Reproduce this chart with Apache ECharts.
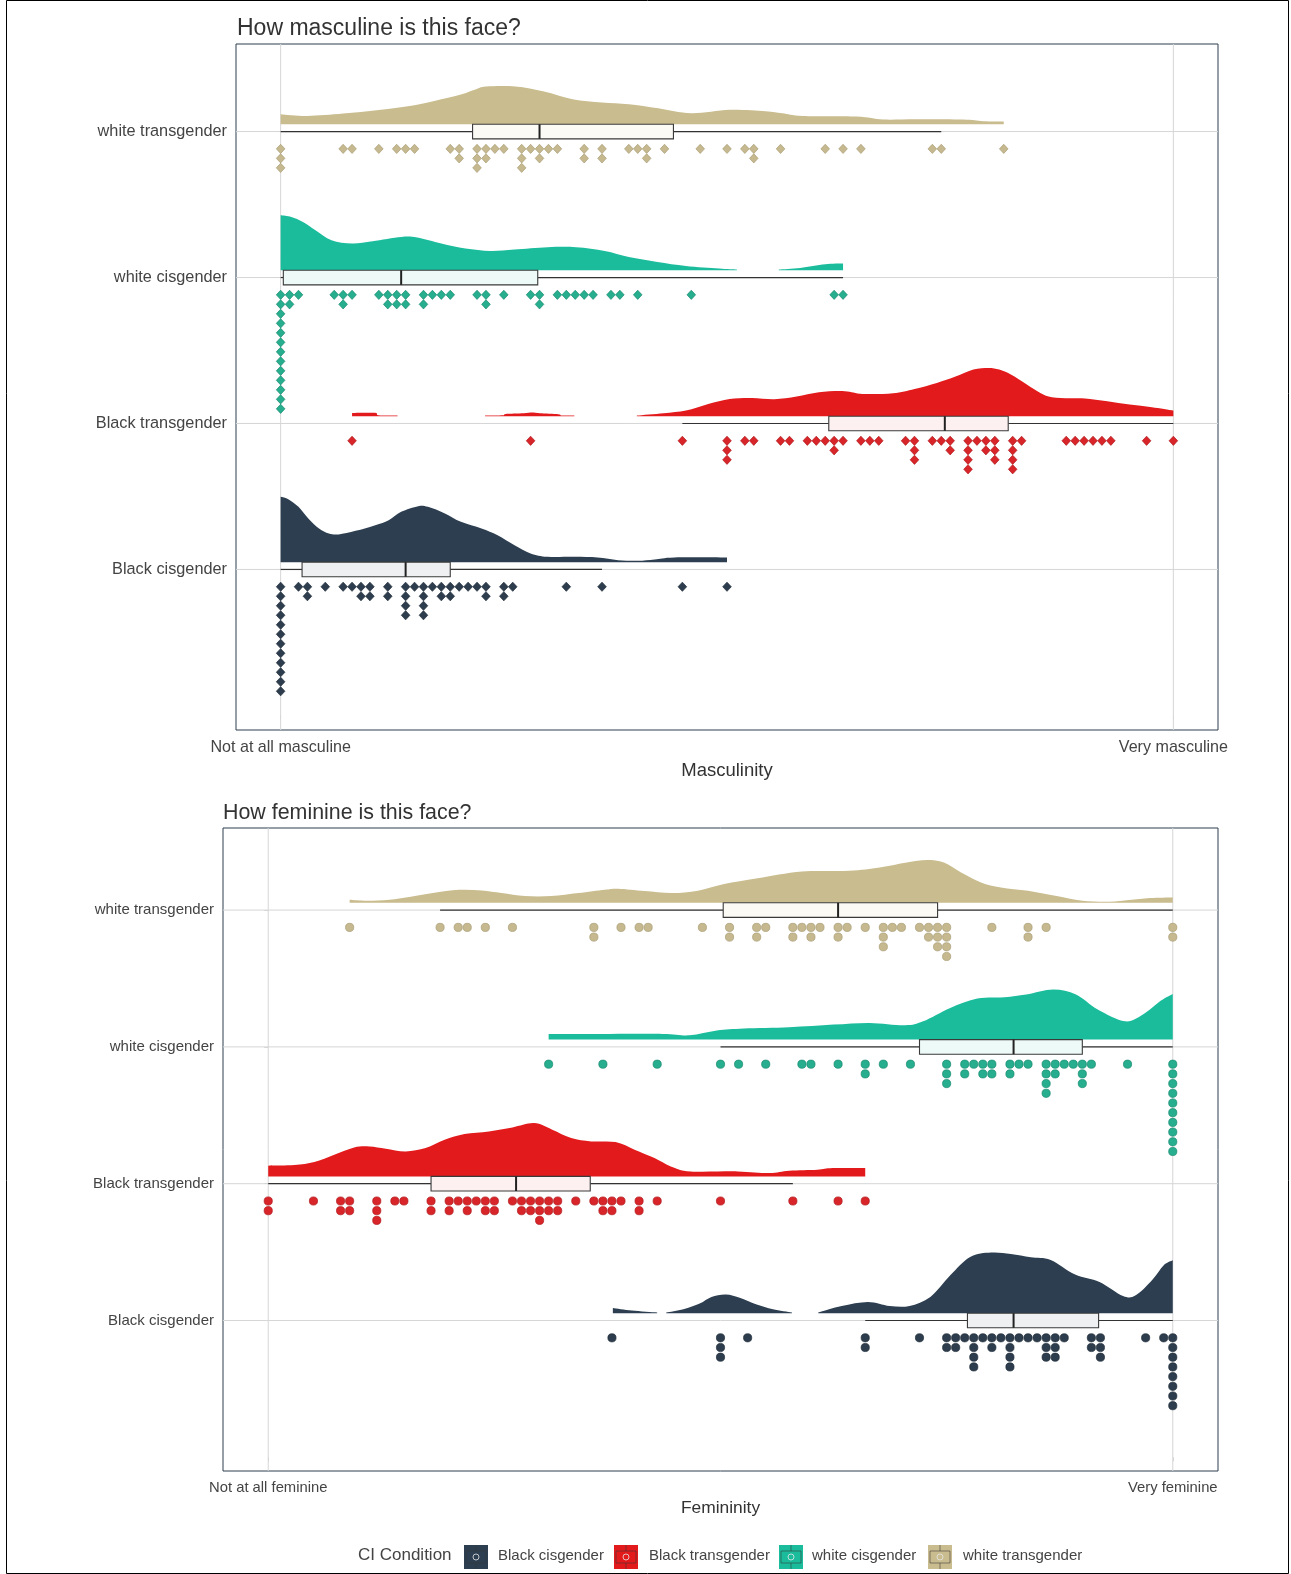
<!DOCTYPE html>
<html>
<head>
<meta charset="utf-8">
<title>Face ratings by CI condition</title>
<script src="https://cdn.jsdelivr.net/npm/echarts@6/dist/echarts.min.js"></script>
<style>
  html, body { margin: 0; padding: 0; background: #ffffff; }
  #chart { width: 1291px; height: 1574px; }
</style>
</head>
<body>
<div id="chart"></div>
<script>
// ---------- data ----------
const CATEGORY_NAMES = ['Black cisgender', 'Black transgender', 'white cisgender', 'white transgender'];
const TICK_VALUES = [0, 100];
const mascTickLabels = ['Not at all masculine', 'Very masculine'];
const femTickLabels = ['Not at all feminine', 'Very feminine'];

// dot stacks: [rating, number of dots]
const mascDotsBlackCis = [[0,12],[2,1],[3,2],[5,1],[7,1],[8,1],[9,2],[10,2],[12,2],[14,4],[15,1],[16,4],[17,1],[18,2],[19,2],[20,1],[21,1],[22,1],[23,2],[25,2],[26,1],[32,1],[36,1],[45,1],[50,1]];
const mascDotsBlackTrans = [[8,1],[28,1],[45,1],[50,3],[52,1],[53,1],[56,1],[57,1],[59,1],[60,1],[61,1],[62,2],[63,1],[65,1],[66,1],[67,1],[70,1],[71,3],[73,1],[74,1],[75,2],[77,4],[78,1],[79,2],[80,3],[82,4],[83,1],[88,1],[89,1],[90,1],[91,1],[92,1],[93,1],[97,1],[100,1]];
const mascDotsWhiteCis = [[0,13],[1,2],[2,1],[6,1],[7,2],[8,1],[11,1],[12,2],[13,2],[14,2],[16,2],[17,1],[18,1],[19,1],[22,1],[23,2],[25,1],[28,1],[29,2],[31,1],[32,1],[33,1],[34,1],[35,1],[37,1],[38,1],[40,1],[46,1],[62,1],[63,1]];
const mascDotsWhiteTrans = [[0,3],[7,1],[8,1],[11,1],[13,1],[14,1],[15,1],[19,1],[20,2],[22,3],[23,2],[24,1],[25,1],[27,3],[28,1],[29,2],[30,1],[31,1],[34,2],[36,2],[39,1],[40,1],[41,2],[43,1],[47,1],[50,1],[52,1],[53,2],[56,1],[61,1],[63,1],[65,1],[73,1],[74,1],[81,1]];

const femDotsBlackCis = [[38,1],[50,3],[53,1],[66,2],[72,1],[75,2],[76,2],[77,1],[78,4],[79,1],[80,2],[81,1],[82,4],[83,1],[84,1],[85,1],[86,3],[87,3],[88,1],[91,2],[92,3],[97,1],[99,1],[100,8]];
const femDotsBlackTrans = [[0,2],[5,1],[8,2],[9,2],[12,3],[14,1],[15,1],[18,2],[20,2],[21,1],[22,2],[23,1],[24,2],[25,2],[27,1],[28,2],[29,2],[30,3],[31,2],[32,2],[34,1],[36,1],[37,2],[38,2],[39,1],[41,2],[43,1],[50,1],[58,1],[63,1],[66,1]];
const femDotsWhiteCis = [[31,1],[37,1],[43,1],[50,1],[52,1],[55,1],[59,1],[60,1],[63,1],[66,2],[68,1],[71,1],[75,3],[77,2],[78,1],[79,2],[80,2],[82,2],[83,1],[84,1],[86,4],[87,2],[88,1],[89,1],[90,3],[91,1],[95,1],[100,10]];
const femDotsWhiteTrans = [[9,1],[19,1],[21,1],[22,1],[24,1],[27,1],[36,2],[39,1],[41,1],[42,1],[48,1],[51,2],[54,2],[55,1],[58,2],[59,1],[60,2],[61,1],[63,2],[64,1],[66,1],[68,3],[69,1],[70,1],[72,1],[73,2],[74,3],[75,4],[80,1],[84,2],[86,1],[100,2]];

// box summaries: [lower whisker, Q1, median, Q3, upper whisker]
const mascBoxBlackCis = [0, 2.4, 14, 19, 36];
const mascBoxBlackTrans = [45, 61.4, 74.4, 81.5, 100];
const mascBoxWhiteCis = [0, 0.3, 13.5, 28.8, 63];
const mascBoxWhiteTrans = [0, 21.5, 29, 44, 74];

const femBoxBlackCis = [66, 77.3, 82.4, 91.8, 100];
const femBoxBlackTrans = [0, 18, 27.4, 35.6, 58];
const femBoxWhiteCis = [50, 72, 82.4, 90, 100];
const femBoxWhiteTrans = [19, 50.3, 63, 74, 100];

// density curves: [rating, density]; null splits separate pieces
const mascDensBlackCis = [[0,6.53],[0.9,6.27],[2,5.53],[3.1,4.37],[4.3,3.37],[5.4,2.87],[6.5,2.77],[8.4,3.13],[10.6,3.7],[12.1,4.2],[13.5,5.03],[15.4,5.6],[16.5,5.53],[18.4,4.87],[20.2,4.03],[22.5,3.37],[24.3,2.7],[26.2,1.7],[28,0.87],[29.9,0.53],[32.9,0.53],[35.5,0.47],[37.8,0.2],[40,0.13],[41.9,0.27],[44.1,0.47],[50,0.47]];
const mascDensBlackTrans = [[8,0.33],[10.7,0.33],[10.9,0.1],[13.1,0.07],null,
  [22.9,0.07],[24.9,0.1],[25.2,0.23],[27.2,0.3],[28.2,0.37],[29,0.3],[31.1,0.2],[31.5,0.07],[32.9,0.07],null,
  [39.9,0.07],[42.9,0.3],[45.4,0.57],[47.9,1.23],[50.3,1.73],[52.8,1.83],[55.3,1.7],[57.8,1.97],[60.3,2.4],[63.2,2.5],[65.2,2.23],[68.6,2.3],[71,2.73],[73.5,3.33],[75.6,3.97],[77.6,4.67],[79.3,4.83],[80.5,4.67],[81.8,4.17],[83.5,3.23],[85.1,2.33],[86.4,1.9],[88.4,1.8],[90.1,1.77],[92.6,1.5],[95.1,1.17],[97.6,0.9],[100,0.57]];
const mascDensWhiteCis = [[0,5.5],[1.2,5.33],[2.5,4.83],[3.9,4.0],[5.7,3.0],[8,2.67],[10.3,2.9],[13.5,3.33],[15.3,3.27],[18,2.67],[20.7,2.17],[23.5,1.93],[26.2,2.07],[29.9,2.3],[33.1,2.3],[36.3,1.93],[39,1.33],[42.2,0.83],[45.4,0.43],[49.1,0.17],[51.1,0.07],null,[55.8,0.07],[58.2,0.23],[61,0.6],[63,0.67]];
const mascDensWhiteTrans = [[0,1.0],[3,0.83],[7,1.07],[11,1.43],[15,1.9],[18,2.5],[20.3,3.0],[21.9,3.5],[23,3.77],[26.3,3.77],[29.5,3.27],[32.7,2.5],[36,2.17],[39,2.0],[42.3,1.6],[46,1.1],[50.3,1.45],[54.3,1.3],[56.2,1.1],[58.5,0.83],[64.5,0.77],[67.5,0.47],[71.2,0.5],[76.4,0.47],[78.7,0.3],[81,0.27]];

const femDensBlackCis = [[38.1,0.53],[40.2,0.27],[43,0.07],null,
  [44,0.07],[45.9,0.4],[47.7,0.97],[49,1.63],[50.6,1.87],[52.2,1.53],[54,0.87],[55.8,0.4],[57.9,0.07],null,
  [60.8,0.07],[63.4,0.73],[66.3,1.13],[68.7,0.73],[70.9,0.73],[73.2,1.63],[75.4,3.8],[77.6,5.63],[79.9,6.07],[82.1,5.93],[84.3,5.6],[86.5,5.33],[89.2,3.87],[91.9,3.13],[94.5,1.73],[95.9,1.8],[97.7,3.3],[99,4.8],[100,5.3]];
const femDensBlackTrans = [[0,1.07],[2.9,1.13],[5.1,1.43],[7.3,2.17],[9.5,2.9],[11.2,3.0],[13,2.77],[15.2,2.5],[17.4,2.83],[19.5,3.67],[21.7,4.23],[24.4,4.5],[27,4.9],[29.4,5.33],[31.4,4.67],[33.5,3.83],[35.7,3.5],[38.4,3.43],[40.5,2.67],[42.7,1.83],[44.5,1.0],[46.7,0.5],[51.9,0.5],[55.4,0.33],[57.6,0.57],[60.7,0.67],[62.4,0.83],[66,0.83]];
const femDensWhiteCis = [[31,0.57],[37.7,0.57],[43.6,0.57],[46.6,0.43],[49.6,0.9],[52.6,1.1],[57.6,1.23],[62.5,1.5],[66.5,1.67],[70.4,1.43],[72.4,1.83],[75.4,3.17],[78.4,4.1],[81.4,4.23],[83.8,4.5],[86.8,5.0],[89.3,4.5],[91.7,3.0],[94.7,1.83],[96.7,2.5],[98.7,3.9],[100,4.57]];
const femDensWhiteTrans = [[9,0.3],[10.9,0.2],[13.4,0.3],[15.6,0.57],[18.2,0.97],[21.1,1.3],[23.6,1.23],[25.8,0.97],[28.4,0.67],[31.3,0.67],[34.3,0.97],[37.2,1.3],[38.7,1.4],[41.6,1.17],[44.6,0.97],[47.5,1.2],[50.4,1.87],[54.1,2.45],[59,3.13],[64.2,3.2],[67.6,3.53],[70.6,4.03],[72.8,4.27],[74.7,4.03],[76.6,3.03],[78.8,2.03],[81,1.53],[84,1.2],[87,0.7],[90,0.2],[93,0.1],[95.2,0.27],[97.5,0.47],[100,0.53]];

// ---------- styling ----------
const FONT = '"Liberation Sans", Arial, sans-serif';
const COLORS = ['#2c3e50', '#e31a1c', '#1abc9c', '#c9bc8e'];
const DOT_FILLS = ['#2d3d4d', '#d8252a', '#27ae8e', '#c6b98f'];
const DOT_EDGES = ['#1e2b38', '#b0181b', '#178a70', '#a89c74'];
const BOX_FILLS = ['#eef0f1', '#fdf0f0', '#eefaf7', '#fbfaf5'];
const GRID_LINE = '#d6d6d6';
const FRAME = '#2c3e50';
const DENSITY_PX = 10;   // pixels per density unit
const BASE_GAP = 7.3;    // density baseline above category line
const BOX_HALF = 7.3;    // half box height
const DOT_FIRST = 17.3;  // first dot row below category line

const panels = [
  {
    title: 'How masculine is this face?', axisName: 'Masculinity', tickLabels: mascTickLabels,
    grid: { left: 236, top: 44, width: 982, height: 686 },
    dotShape: 'diamond', dotStep: 9.5,
    dots: [mascDotsBlackCis, mascDotsBlackTrans, mascDotsWhiteCis, mascDotsWhiteTrans],
    boxes: [mascBoxBlackCis, mascBoxBlackTrans, mascBoxWhiteCis, mascBoxWhiteTrans],
    dens: [mascDensBlackCis, mascDensBlackTrans, mascDensWhiteCis, mascDensWhiteTrans],
    font: { title: 23, y: 16.3, x: 16.1, name: 18.5 }, titleTop: 17, titleLeft: 237, nameGap: 31, labelMargin: 10, yPad: 4
  },
  {
    title: 'How feminine is this face?', axisName: 'Femininity', tickLabels: femTickLabels,
    grid: { left: 223, top: 828, width: 995, height: 643 },
    dotShape: 'circle', dotStep: 9.7,
    dots: [femDotsBlackCis, femDotsBlackTrans, femDotsWhiteCis, femDotsWhiteTrans],
    boxes: [femBoxBlackCis, femBoxBlackTrans, femBoxWhiteCis, femBoxWhiteTrans],
    dens: [femDensBlackCis, femDensBlackTrans, femDensWhiteCis, femDensWhiteTrans],
    font: { title: 21.4, y: 15, x: 14.8, name: 17.4 }, titleTop: 803, titleLeft: 223, nameGap: 29, labelMargin: 9, yPad: 3
  }
];

// ---------- series builders ----------
function gridLineSeries(p) {
  const data = TICK_VALUES.map(v => [v, 0, 0]).concat(CATEGORY_NAMES.map((_, i) => [0, i + 1, 1]));
  return {
    type: 'custom', xAxisIndex: p, yAxisIndex: p, z: 1, silent: true,
    data, encode: { x: 0, y: 1 },
    renderItem(params, api) {
      const cs = params.coordSys;
      const c = api.coord([api.value(0), api.value(1)]);
      const shape = api.value(2) === 0
        ? { x1: c[0], y1: cs.y, x2: c[0], y2: cs.y + cs.height }
        : { x1: cs.x, y1: c[1], x2: cs.x + cs.width, y2: c[1] };
      return { type: 'line', shape, style: { stroke: GRID_LINE, lineWidth: 1 } };
    }
  };
}

// closed outline: baseline, then a smooth curve through the density points
function densityPath(top, baseY) {
  const n = top.length;
  let d = 'M' + top[0][0] + ',' + baseY + 'L' + top[0][0] + ',' + top[0][1];
  for (let i = 0; i < n - 1; i++) {
    const p0 = top[Math.max(i - 1, 0)], p1 = top[i], p2 = top[i + 1], p3 = top[Math.min(i + 2, n - 1)];
    let c1x = p1[0] + (p2[0] - p0[0]) / 6, c1y = p1[1] + (p2[1] - p0[1]) / 6;
    let c2x = p2[0] - (p3[0] - p1[0]) / 6, c2y = p2[1] - (p3[1] - p1[1]) / 6;
    c1x = Math.min(Math.max(c1x, p1[0]), p2[0]);
    c2x = Math.min(Math.max(c2x, p1[0]), p2[0]);
    c1y = Math.min(c1y, baseY); c2y = Math.min(c2y, baseY);
    d += 'C' + c1x + ',' + c1y + ',' + c2x + ',' + c2y + ',' + p2[0] + ',' + p2[1];
  }
  d += 'L' + top[n - 1][0] + ',' + baseY + 'Z';
  return d;
}

function densitySeries(p, gi, curve) {
  const pieces = [];
  let cur = [];
  curve.forEach(pt => {
    if (pt === null) { if (cur.length) pieces.push(cur); cur = []; }
    else cur.push(pt);
  });
  if (cur.length) pieces.push(cur);
  return {
    type: 'custom', name: CATEGORY_NAMES[gi], xAxisIndex: p, yAxisIndex: p, z: 2, silent: true,
    itemStyle: { color: COLORS[gi] },
    data: pieces.map((pc, i) => [pc[0][0], gi + 1, i]),
    encode: { x: 0, y: 1 },
    renderItem(params, api) {
      const piece = pieces[api.value(2)];
      const cat = api.value(1);
      const baseY = api.coord([0, cat])[1] - BASE_GAP;
      const top = piece.map(([x, dv]) => {
        const c = api.coord([x, cat]);
        return [c[0], baseY - dv * DENSITY_PX];
      });
      return { type: 'path', shape: { pathData: densityPath(top, baseY) }, style: { fill: COLORS[gi] } };
    }
  };
}

function boxSeries(p, gi, stats) {
  return {
    type: 'custom', name: CATEGORY_NAMES[gi], xAxisIndex: p, yAxisIndex: p, z: 3, silent: true,
    itemStyle: { color: COLORS[gi] },
    data: [stats.concat([gi + 1])],
    encode: { x: [0, 4], y: 5 },
    renderItem(params, api) {
      const cat = api.value(5);
      const px = k => api.coord([api.value(k), cat])[0];
      const y = api.coord([0, cat])[1];
      const lo = px(0), q1 = px(1), md = px(2), q3 = px(3), hi = px(4);
      const lineStyle = { stroke: '#333333', lineWidth: 1.2 };
      return {
        type: 'group',
        children: [
          { type: 'line', shape: { x1: lo, y1: y, x2: q1, y2: y }, style: lineStyle },
          { type: 'line', shape: { x1: q3, y1: y, x2: hi, y2: y }, style: lineStyle },
          { type: 'rect', shape: { x: q1, y: y - BOX_HALF, width: q3 - q1, height: 2 * BOX_HALF },
            style: { fill: BOX_FILLS[gi], stroke: '#3a3a3a', lineWidth: 1.1 } },
          { type: 'line', shape: { x1: md, y1: y - BOX_HALF, x2: md, y2: y + BOX_HALF },
            style: { stroke: '#222222', lineWidth: 2 } }
        ]
      };
    }
  };
}

function dotSeries(p, gi, stacks, shape, step) {
  return {
    type: 'custom', name: CATEGORY_NAMES[gi], xAxisIndex: p, yAxisIndex: p, z: 4, silent: true,
    itemStyle: { color: COLORS[gi] },
    data: stacks.map(([v, n]) => [v, gi + 1, n]),
    encode: { x: 0, y: 1 },
    renderItem(params, api) {
      const c = api.coord([api.value(0), api.value(1)]);
      const n = api.value(2);
      const children = [];
      const style = { fill: DOT_FILLS[gi], stroke: DOT_EDGES[gi], lineWidth: 0.7 };
      for (let i = 0; i < n; i++) {
        const y = c[1] + DOT_FIRST + i * step;
        if (shape === 'diamond') {
          children.push({ type: 'polygon',
            shape: { points: [[c[0], y - 4.6], [c[0] + 4.3, y], [c[0], y + 4.6], [c[0] - 4.3, y]] }, style });
        } else {
          children.push({ type: 'circle', shape: { cx: c[0], cy: y, r: 4.1 }, style });
        }
      }
      return { type: 'group', children };
    }
  };
}

// ---------- option ----------
const series = [];
panels.forEach((P, p) => {
  series.push(gridLineSeries(p));
  CATEGORY_NAMES.forEach((_, gi) => {
    series.push(densitySeries(p, gi, P.dens[gi]));
    series.push(boxSeries(p, gi, P.boxes[gi]));
    series.push(dotSeries(p, gi, P.dots[gi], P.dotShape, P.dotStep));
  });
});

// legend drawn as boxplot keys
const legendKeyX = [464, 614, 779, 928];
const legendTextX = [498, 649, 812, 963];
const legendY = 1557;
const KEY_LINE = 'rgba(55,55,55,0.55)';
const legendGraphics = [
  { type: 'text', left: 358, top: legendY - 10, style: { text: 'CI Condition', font: '17px ' + FONT, fill: '#444444' } }
];
CATEGORY_NAMES.forEach((name, i) => {
  const x = legendKeyX[i], y = legendY - 12;
  legendGraphics.push(
    { type: 'rect', shape: { x, y, width: 24, height: 24 }, style: { fill: COLORS[i] } },
    { type: 'rect', shape: { x: x + 2, y: y + 6, width: 20, height: 12 }, style: { fill: 'none', stroke: KEY_LINE, lineWidth: 1 } },
    { type: 'line', shape: { x1: x + 12, y1: y, x2: x + 12, y2: y + 6 }, style: { stroke: KEY_LINE, lineWidth: 1 } },
    { type: 'line', shape: { x1: x + 12, y1: y + 18, x2: x + 12, y2: y + 24 }, style: { stroke: KEY_LINE, lineWidth: 1 } },
    { type: 'circle', shape: { cx: x + 12, cy: y + 12, r: 3 }, style: { fill: 'none', stroke: 'rgba(230,230,230,0.8)', lineWidth: 1 } },
    { type: 'text', left: legendTextX[i], top: legendY - 8.5, style: { text: name, font: '15px ' + FONT, fill: '#444444' } }
  );
});
legendGraphics.push({ type: 'rect', shape: { x: 6.5, y: 0.5, width: 1282, height: 1573 }, style: { fill: 'none', stroke: '#000000', lineWidth: 1 }, z: 100 });

const option = {
  animation: false,
  backgroundColor: '#ffffff',
  textStyle: { fontFamily: FONT },
  title: panels.map(P => ({
    text: P.title, left: P.titleLeft, top: P.titleTop, padding: 0,
    textStyle: { fontSize: P.font.title, fontWeight: 'normal', color: '#333333', fontFamily: FONT }
  })),
  grid: panels.map(P => Object.assign({ show: true, borderColor: FRAME, borderWidth: 1, backgroundColor: 'transparent' }, P.grid)),
  xAxis: panels.map((P, p) => ({
    gridIndex: p, type: 'value', min: -5, max: 105,
    axisLine: { show: false },
    axisTick: { show: true, length: 4, lineStyle: { color: GRID_LINE }, customValues: TICK_VALUES },
    axisLabel: { customValues: TICK_VALUES, formatter: v => P.tickLabels[TICK_VALUES.indexOf(v)],
      fontSize: P.font.x, color: '#444444', margin: P.labelMargin, fontFamily: FONT },
    splitLine: { show: false },
    name: P.axisName, nameLocation: 'middle', nameGap: P.nameGap,
    nameTextStyle: { fontSize: P.font.name, color: '#333333', fontFamily: FONT }
  })),
  yAxis: panels.map((P, p) => ({
    gridIndex: p, type: 'value', min: -0.1, max: 4.6,
    axisLine: { show: false },
    axisTick: { show: true, length: 4, lineStyle: { color: GRID_LINE }, customValues: [1, 2, 3, 4] },
    axisLabel: { customValues: [1, 2, 3, 4], formatter: v => CATEGORY_NAMES[v - 1],
      fontSize: P.font.y, color: '#444444', margin: 9, fontFamily: FONT, padding: [P.yPad, 0, 0, 0] },
    splitLine: { show: false }
  })),
  graphic: legendGraphics,
  series
};

const chart = echarts.init(document.getElementById('chart'), null, { renderer: 'canvas' });
chart.setOption(option);
</script>
</body>
</html>
